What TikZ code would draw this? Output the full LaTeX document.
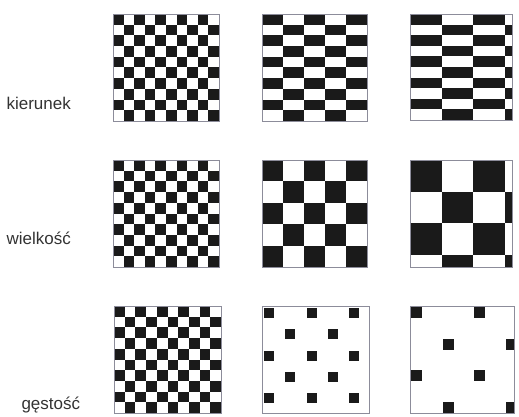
\documentclass[tikz,border=0pt]{standalone}
\usepackage{fontspec}
\setmainfont{Liberation Sans}
\usepackage{xcolor}
\usepackage{tikz}
\definecolor{ink}{HTML}{1A1A1A}
\definecolor{frame}{HTML}{8C8C9A}
\definecolor{labeltext}{HTML}{333333}

\begin{document}
\begin{tikzpicture}[
    x=1pt, y=-1pt,
    panel/.style={draw=frame, line width=0.6pt, inner sep=0pt, anchor=north west},
    cell/.style={fill=ink},
    rowlabel/.style={font=\fontsize{17}{20}\selectfont, text=labeltext, anchor=mid west}
]
\useasboundingbox (0,0) rectangle (519,417);

% Labels
\node (dirlabel) [rowlabel] at (3,107) {kierunek};
\node (sizelabel) [rowlabel] at (3,242) {wielkość};
\node (denslabel) [rowlabel] at (18,407) {gęstość};

% Panels: name/x/y/width/height/cell w/cell h/square w/square h/offset x/offset y/last row/last col
\foreach \nm/\px/\py/\w/\h/\cw/\ch/\sw/\sh/\ox/\oy/\nr/\nc in {
    dirA/113/14/106/107/10.6/10.7/10.6/10.7/0/0/9/9,
    dirB/262/14/105/107/21/10.7/21/10.7/0/0/9/4,
    dirC/410/14/102/106/31.5/10.6/31.5/10.6/0/0/9/3,
    sizeA/113/160/106/107/10.6/10.7/10.6/10.7/0/0/9/9,
    sizeB/262/160/105/107/21/21.4/21/21.4/0/0/4/4,
    sizeC/410/160/102/107/31.7/31.7/31.7/31.7/0/0/3/3,
    densA/114/306/107/107/10.7/10.7/10.7/10.7/0/0/9/9,
    densB/262/306/107/107/21.3/21.3/10/10/2/2/4/4,
    densC/410/306/104/107/31.5/31.7/11/11/1/1/3/3}
{
    \begin{scope}
        \clip (\px,\py) rectangle ++(\w,\h);
        \foreach \r in {0,...,\nr}
            \foreach \c in {0,...,\nc} {
                \pgfmathtruncatemacro\odd{mod(\r+\c,2)}
                \ifnum\odd=0
                    \fill[cell] (\px+\c*\cw+\ox, \py+\r*\ch+\oy) rectangle ++(\sw,\sh);
                \fi
            }
    \end{scope}
    \node (\nm) [panel, minimum width=\w, minimum height=\h] at (\px,\py) {};
}

\end{tikzpicture}
\end{document}
